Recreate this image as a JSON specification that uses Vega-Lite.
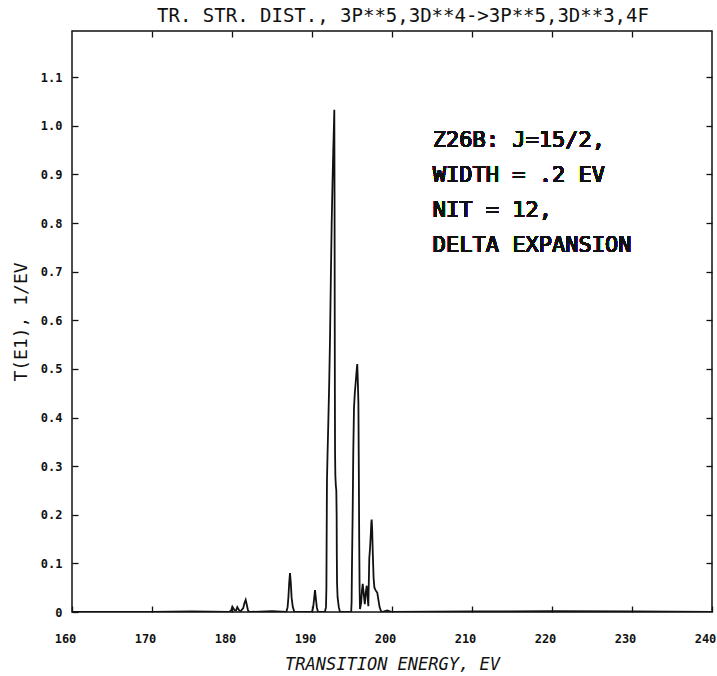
{
  "$schema": "https://vega.github.io/schema/vega-lite/v6.json",
  "autosize": "none",
  "width": 640,
  "height": 581,
  "padding": {"left": 72, "top": 31, "right": 5, "bottom": 64},
  "background": "white",
  "config": {
    "view": {"stroke": "#111", "strokeWidth": 1.5},
    "axis": {"domain": false, "grid": false, "tickColor": "#111", "tickWidth": 1.3, "labelColor": "#111", "titleColor": "#111", "labelFont": "DejaVu Sans Mono", "titleFont": "DejaVu Sans Mono", "titleFontWeight": "normal", "labelFontWeight": "bold"}
  },
  "title": {"text": "TR. STR. DIST., 3P**5,3D**4->3P**5,3D**3,4F", "font": "DejaVu Sans Mono", "fontSize": 19, "fontWeight": "normal", "color": "#111", "offset": 4, "dx": 11},
  "data": {"values": [
    {"e": 160, "t": 0}, {"e": 170, "t": 0}, {"e": 175, "t": 0.001}, {"e": 179.6, "t": 0},
    {"e": 179.9, "t": 0.003}, {"e": 180.04, "t": 0.011}, {"e": 180.3, "t": 0.004}, {"e": 180.5, "t": 0.003},
    {"e": 180.66, "t": 0.01}, {"e": 180.9, "t": 0.003}, {"e": 181.1, "t": 0.002}, {"e": 181.4, "t": 0.008},
    {"e": 181.55, "t": 0.018}, {"e": 181.71, "t": 0.025}, {"e": 181.85, "t": 0.015}, {"e": 182.0, "t": 0.003},
    {"e": 182.2, "t": 0}, {"e": 185, "t": 0.002}, {"e": 186.8, "t": 0},
    {"e": 186.95, "t": 0.01}, {"e": 187.05, "t": 0.03}, {"e": 187.15, "t": 0.06}, {"e": 187.25, "t": 0.08},
    {"e": 187.35, "t": 0.06}, {"e": 187.45, "t": 0.03}, {"e": 187.6, "t": 0.01}, {"e": 187.8, "t": 0},
    {"e": 190.0, "t": 0}, {"e": 190.15, "t": 0.01}, {"e": 190.25, "t": 0.025}, {"e": 190.375, "t": 0.045},
    {"e": 190.5, "t": 0.025}, {"e": 190.6, "t": 0.01}, {"e": 190.75, "t": 0},
    {"e": 191.6, "t": 0}, {"e": 191.75, "t": 0.01}, {"e": 191.8, "t": 0.05}, {"e": 191.83, "t": 0.15},
    {"e": 191.87, "t": 0.27}, {"e": 191.95, "t": 0.33}, {"e": 192.04, "t": 0.39}, {"e": 192.15, "t": 0.47},
    {"e": 192.25, "t": 0.56}, {"e": 192.35, "t": 0.68}, {"e": 192.46, "t": 0.8}, {"e": 192.56, "t": 0.88},
    {"e": 192.66, "t": 0.95}, {"e": 192.74, "t": 1.0}, {"e": 192.79, "t": 1.033}, {"e": 192.82, "t": 0.85},
    {"e": 192.84, "t": 0.62}, {"e": 192.86, "t": 0.45}, {"e": 192.88, "t": 0.33}, {"e": 192.92, "t": 0.28},
    {"e": 192.98, "t": 0.26}, {"e": 193.04, "t": 0.25}, {"e": 193.08, "t": 0.2}, {"e": 193.1, "t": 0.12},
    {"e": 193.13, "t": 0.06}, {"e": 193.2, "t": 0.03}, {"e": 193.35, "t": 0.01}, {"e": 193.5, "t": 0},
    {"e": 194.9, "t": 0}, {"e": 194.95, "t": 0.02}, {"e": 195.0, "t": 0.1}, {"e": 195.08, "t": 0.2},
    {"e": 195.16, "t": 0.33}, {"e": 195.25, "t": 0.42}, {"e": 195.35, "t": 0.45}, {"e": 195.5, "t": 0.48},
    {"e": 195.6, "t": 0.5}, {"e": 195.66, "t": 0.51}, {"e": 195.72, "t": 0.48}, {"e": 195.8, "t": 0.43},
    {"e": 195.85, "t": 0.3}, {"e": 195.9, "t": 0.15}, {"e": 195.95, "t": 0.05}, {"e": 196.0, "t": 0.006},
    {"e": 196.15, "t": 0.02}, {"e": 196.25, "t": 0.045}, {"e": 196.34, "t": 0.058}, {"e": 196.45, "t": 0.04},
    {"e": 196.6, "t": 0.016}, {"e": 196.72, "t": 0.04}, {"e": 196.84, "t": 0.054}, {"e": 196.95, "t": 0.03},
    {"e": 197.04, "t": 0.012}, {"e": 197.1, "t": 0.06}, {"e": 197.16, "t": 0.11}, {"e": 197.25, "t": 0.13},
    {"e": 197.35, "t": 0.16}, {"e": 197.42, "t": 0.185}, {"e": 197.46, "t": 0.19}, {"e": 197.52, "t": 0.17},
    {"e": 197.6, "t": 0.12}, {"e": 197.7, "t": 0.07}, {"e": 197.8, "t": 0.05}, {"e": 197.95, "t": 0.045},
    {"e": 198.05, "t": 0.042}, {"e": 198.16, "t": 0.04}, {"e": 198.3, "t": 0.025}, {"e": 198.45, "t": 0.01},
    {"e": 198.6, "t": 0.003}, {"e": 198.75, "t": 0}, {"e": 199.4, "t": 0.003}, {"e": 200, "t": 0},
    {"e": 210, "t": 0.001}, {"e": 220, "t": 0.002}, {"e": 230, "t": 0.001}, {"e": 240, "t": 0}
  ]},
  "resolve": {"axis": {"x": "independent", "y": "independent"}},
  "layer": [
    {
      "mark": {"type": "line", "color": "#111", "strokeWidth": 1.8, "clip": true},
      "encoding": {
        "x": {"field": "e", "type": "quantitative", "scale": {"domain": [160, 240], "nice": false, "zero": false},
          "axis": {"orient": "bottom", "values": [160, 170, 180, 190, 200, 210, 220, 230, 240], "tickSize": -6, "labelPadding": 27, "labelOffset": -7, "labelFontSize": 12, "labelFlush": false, "title": "TRANSITION ENERGY, EV", "titleFontSize": 17, "titleFontStyle": "italic", "titlePadding": 12}},
        "y": {"field": "t", "type": "quantitative", "scale": {"domain": [0, 1.195], "nice": false},
          "axis": {"orient": "left", "values": [0, 0.1, 0.2, 0.3, 0.4, 0.5, 0.6, 0.7, 0.8, 0.9, 1.0, 1.1], "tickSize": -6, "labelPadding": 16, "labelFontSize": 12, "labelFlush": false, "labelExpr": "datum.value == 0 ? '0' : format(datum.value, '.1f')", "title": "T(E1), 1/EV", "titleFontSize": 18, "titlePadding": 10}}
      }
    },
    {
      "mark": {"type": "text", "align": "left", "baseline": "alphabetic", "font": "DejaVu Sans Mono", "fontSize": 22, "lineHeight": 35, "color": "#111"},
      "encoding": {
        "x": {"datum": 205.1, "type": "quantitative",
          "axis": {"orient": "top", "values": [170, 180, 190, 200, 210, 220, 230], "tickSize": -6, "labels": false, "title": null}},
        "y": {"datum": 0.957, "type": "quantitative",
          "axis": {"orient": "right", "values": [0.1, 0.2, 0.3, 0.4, 0.5, 0.6, 0.7, 0.8, 0.9, 1.0, 1.1], "tickSize": -6, "labels": false, "title": null}},
        "text": {"value": ["Z26B: J=15/2,", "WIDTH = .2 EV", "NIT = 12,", "DELTA EXPANSION"]}
      }
    }
  ]
}
